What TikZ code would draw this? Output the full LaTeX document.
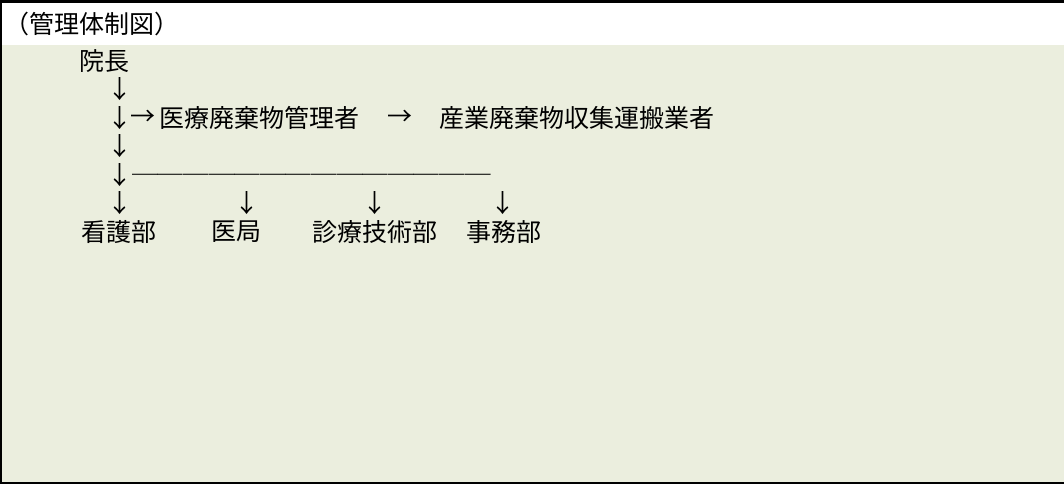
\documentclass[tikz,border=0pt]{standalone}
\usepackage{fontspec}
\usepackage{tikz}
\newfontfamily\jpfont{Noto Sans CJK JP}
\definecolor{bodygreen}{HTML}{EBEEDE}

\begin{document}
\begin{tikzpicture}
  [x=1pt,y=-1pt,every node/.style={inner sep=0pt,font=\jpfont\fontsize{25}{25}\selectfont}]
  \useasboundingbox (0,0) rectangle (1064,484);
  \fill[white] (0,0) rectangle (1064,45);
  \fill[bodygreen] (0,45) rectangle (1064,484);
  \draw[line width=3pt] (0,1.5) -- (1064,1.5);
  \draw[line width=2pt] (1,0) -- (1,484);
  \draw[line width=2pt] (0,483) -- (1064,483);

  \node (title) at (92,24) {（管理体制図）};
  \node[anchor=west] (incho) at (79,61) {院長};
  \node (d1) at (120,89.5) {↓};
  \node (d2) at (120,118) {↓};
  \node (r1) at (143,118) {→};
  \node[anchor=west] (kanri) at (159,118) {医療廃棄物管理者};
  \node (r2) at (400,118) {→};
  \node[anchor=west] (gyosha) at (439,118) {産業廃棄物収集運搬業者};
  \node (d3) at (120,146.5) {↓};
  \node (d4) at (120,175) {↓};
  \node[anchor=west,font=\jpfont\fontsize{25.6}{25.6}\selectfont] (bar) at (132,179.5) {──────────────};
  \node (d5) at (120,203.5) {↓};
  \node (d6) at (247,203.5) {↓};
  \node (d7) at (375,203.5) {↓};
  \node (d8) at (503,203.5) {↓};
  \node[anchor=west] (kango) at (81,232) {看護部};
  \node[anchor=west] (ikyoku) at (211,232) {医局};
  \node[anchor=west] (shinryo) at (312,232) {診療技術部};
  \node[anchor=west] (jimu) at (466,232) {事務部};
\end{tikzpicture}
\end{document}
